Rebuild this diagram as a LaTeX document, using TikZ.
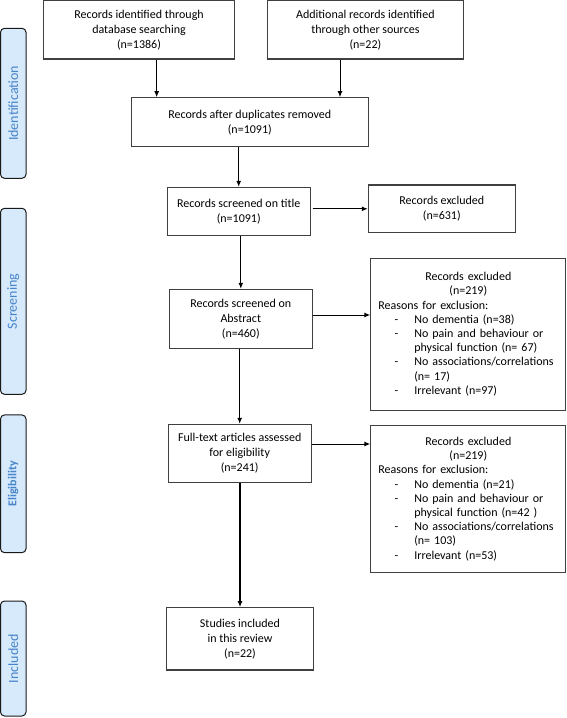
\documentclass[tikz,border=0pt]{standalone}
\usepackage{fontspec}
\setmainfont{Carlito}
\usetikzlibrary{arrows.meta,positioning,calc}

\definecolor{phasefill}{RGB}{214,234,251}
\definecolor{phasetext}{RGB}{72,132,200}

% one line of the exclusion lists
\newcommand{\reason}[1]{{\leftskip=36pt\noindent\llap{-\hspace{16pt}}#1\par}}

\begin{document}
\begin{tikzpicture}[x=1pt,y=-1pt,>={Latex[length=6pt,width=5pt]},
    box/.style={draw=black!75,line width=1.1pt,align=center,inner sep=0pt,
        font=\fontsize{12}{15}\selectfont},
    exclbox/.style={box,align=left,text width=180pt,inner xsep=7.5pt,
        font=\fontsize{12}{14.2}\selectfont},
    phase/.style={draw=black!90,line width=1pt,fill=phasefill,rounded corners=4pt,
        rotate=90,minimum height=25.5pt,inner sep=0pt,text=phasetext},
    flow/.style={->,line width=1pt}]
\useasboundingbox (0,0) rectangle (567,718);

% phases on the left
\node[phase,minimum width=150pt,font=\fontsize{14}{14}\selectfont] (ph-ident) at (13.25,103.3) {Identification};
\node[phase,minimum width=186pt,font=\fontsize{14}{14}\selectfont] (ph-screen) at (13.25,301.3) {Screening};
\node[phase,minimum width=137.7pt,font=\bfseries\fontsize{12}{12}\selectfont] (ph-elig) at (13.25,483.8) {Eligibility};
\node[phase,minimum width=115pt,font=\fontsize{14}{14}\selectfont] (ph-incl) at (13.25,658.5) {Included};

% flow boxes
\node[box,minimum width=191pt,minimum height=58.5pt] (rec-db) at (139,29.75) {Records identified through\\database searching\\(n=1386)};
\node[box,minimum width=196.5pt,minimum height=58.5pt] (rec-other) at (365.4,29.75) {Additional records identified\\through other sources\\(n=22)};
\node[box,minimum width=236.5pt,minimum height=49pt] (rec-dedup) at (249.8,122.2) {Records after duplicates removed\\(n=1091)};
\node[box,minimum width=142.7pt,minimum height=47.7pt] (scr-title) at (238.7,211.2) {Records screened on title\\(n=1091)};
\node[box,minimum width=147pt,minimum height=47.7pt] (exc-title) at (441.8,208.8) {Records excluded\\(n=631)};
\node[box,minimum width=143pt,minimum height=59pt] (scr-abs) at (240.8,318.8) {Records screened on\\Abstract\\(n=460)};
\node[exclbox,minimum height=151.7pt] (exc-abs) at (468.3,334.2) {{\centering Records excluded\\(n=219)\par}
    Reasons for exclusion:\par
    \reason{No dementia (n=38)}
    \reason{No pain and behaviour or\\physical function (n= 67)}
    \reason{No associations/correlations\\(n= 17)}
    \reason{Irrelevant (n=97)}};
\node[box,minimum width=142.7pt,minimum height=58.4pt] (full-text) at (239.7,453.5) {Full-text articles assessed\\for eligibility\\(n=241)};
\node[exclbox,minimum height=146.6pt] (exc-full) at (468.3,499) {{\centering Records excluded\\(n=219)\par}
    Reasons for exclusion:\par
    \reason{No dementia (n=21)}
    \reason{No pain and behaviour or\\physical function (n=42 )}
    \reason{No associations/correlations\\(n= 103)}
    \reason{Irrelevant (n=53)}};
\node[box,minimum width=146.6pt,minimum height=62.3pt] (incl) at (240,638.8) {Studies included\\in this review\\(n=22)};

% connectors
\draw[flow] ([xshift=17.7pt]rec-db.south) -- ([xshift=17.7pt]rec-db.south |- rec-dedup.north);
\draw[flow] ([xshift=-25.4pt]rec-other.south) -- ([xshift=-25.4pt]rec-other.south |- rec-dedup.north);
\draw[flow] (scr-title.north |- rec-dedup.south) -- (scr-title.north);
\draw[flow] ([xshift=2pt]scr-title.east |- exc-title.west) -- (exc-title.west);
\draw[flow] (scr-abs.north |- scr-title.south) -- (scr-abs.north);
\draw[flow] ([yshift=3.8pt]scr-abs.east) -- ([yshift=3.8pt]scr-abs.east -| exc-abs.west);
\draw[flow] (full-text.north |- scr-abs.south) -- (full-text.north);
\draw[flow] ([yshift=9.5pt]full-text.east) -- ([yshift=9.5pt]full-text.east -| exc-full.west);
\draw[flow,line width=2pt] (incl.north |- full-text.south) -- (incl.north);
\end{tikzpicture}
\end{document}
